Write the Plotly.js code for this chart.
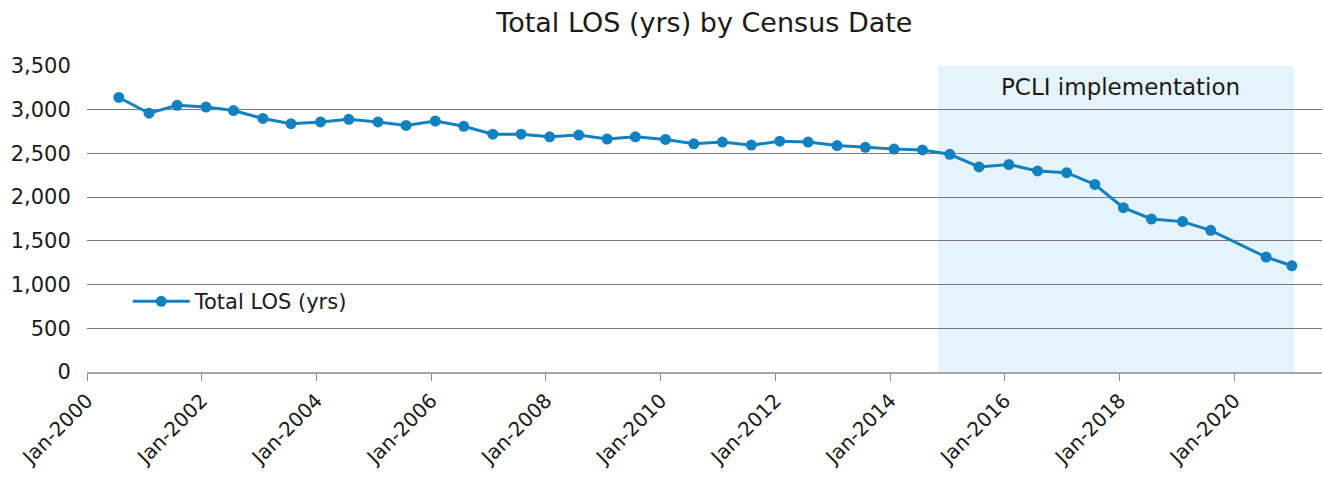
<!DOCTYPE html>
<html>
<head>
<meta charset="utf-8">
<script src="https://cdn.plot.ly/plotly-3.0.1.min.js"></script>
<style>html,body{margin:0;padding:0;background:#fff;}#chart{width:1324px;height:477px;}</style>
</head>
<body>
<div id="chart"></div>
<script>
var censusDates = ["2000-07-22","2001-01-30","2001-07-28","2002-01-28","2002-07-22","2003-01-25","2003-07-23","2004-01-27","2004-07-25","2005-01-27","2005-07-25","2006-01-27","2006-07-27","2007-01-28","2007-07-27","2008-01-25","2008-07-28","2009-01-25","2009-07-24","2010-02-01","2010-07-31","2011-01-29","2011-08-01","2012-01-29","2012-07-28","2013-01-28","2013-07-27","2014-01-26","2014-07-26","2015-01-16","2015-07-21","2016-01-27","2016-07-28","2017-01-29","2017-07-28","2018-01-25","2018-07-23","2019-02-06","2019-08-04","2020-07-22","2021-01-02"];
var totalLOS = [3140,2960,3050,3030,2990,2900,2840,2860,2890,2860,2820,2870,2810,2720,2720,2690,2710,2665,2690,2660,2610,2630,2595,2640,2630,2590,2570,2550,2540,2490,2345,2373,2300,2280,2145,1880,1750,1720,1620,1315,1215];
var xTickVals = ["2000-01-01","2002-01-01","2004-01-01","2006-01-01","2008-01-01","2010-01-01","2012-01-01","2014-01-01","2016-01-01","2018-01-01","2020-01-01"];
var xTickText = ["Jan-2000","Jan-2002","Jan-2004","Jan-2006","Jan-2008","Jan-2010","Jan-2012","Jan-2014","Jan-2016","Jan-2018","Jan-2020"];
var yTickVals = [0,500,1000,1500,2000,2500,3000,3500];
var shadeStart = "2014-11-01";
var shadeEnd = "2021-01-18";
var shadeLabel = "PCLI implementation";
var seriesName = "Total LOS (yrs)";
var chartTitle = "Total LOS (yrs) by Census Date";

var FONT = "'DejaVu Sans', sans-serif";
var trace = {
  x: censusDates, y: totalLOS, type: "scatter", mode: "lines+markers",
  name: seriesName,
  line: {color: "#1380C0", width: 3},
  marker: {color: "#1380C0", size: 11},
  showlegend: true
};
var layout = {
  width: 1324, height: 477,
  margin: {l: 87, r: 2, t: 66, b: 105},
  paper_bgcolor: "#ffffff", plot_bgcolor: "#ffffff",
  font: {family: FONT, size: 21, color: "#1a1a1a"},
  title: {text: chartTitle, x: 0.532, xanchor: "center", y: 0.952, yanchor: "middle", font: {family: FONT, size: 27, color: "#1a1a1a"}},
  xaxis: {
    type: "date", range: ["2000-01-01", "2021-07-13"],
    tickmode: "array", tickvals: xTickVals, ticktext: xTickText,
    tickangle: -45, ticks: "outside", ticklen: 7, tickcolor: "#8c8c8c", tickwidth: 1,
    showline: true, linecolor: "#a6a6a6", linewidth: 2,
    showgrid: false, zeroline: false,
    tickfont: {family: FONT, size: 20, color: "#1a1a1a"}
  },
  yaxis: {
    range: [0, 3500], tickmode: "array", tickvals: yTickVals, tickformat: ",",
    showgrid: true, gridcolor: "#7a7a7a", gridwidth: 1,
    zeroline: false, showline: false,
    ticks: "outside", ticklen: 11, tickcolor: "rgba(0,0,0,0)",
    tickfont: {family: FONT, size: 21, color: "#1a1a1a"}
  },
  shapes: [{
    type: "rect", xref: "x", yref: "paper", x0: shadeStart, x1: shadeEnd, y0: 0, y1: 1,
    fillcolor: "#E5F4FC", line: {width: 0}, layer: "below"
  }],
  annotations: [{
    text: shadeLabel, xref: "x", yref: "paper", x: "2018-01-05", y: 0.932,
    xanchor: "center", yanchor: "middle", showarrow: false,
    font: {family: FONT, size: 23, color: "#1a1a1a"}
  }],
  legend: {
    x: 0.033, y: 0.23, xanchor: "left", yanchor: "middle",
    bgcolor: "rgba(0,0,0,0)", itemwidth: 57,
    font: {family: FONT, size: 21, color: "#1a1a1a"}
  }
};
Plotly.newPlot("chart", [trace], layout, {staticPlot: true, displayModeBar: false});
</script>
</body>
</html>
